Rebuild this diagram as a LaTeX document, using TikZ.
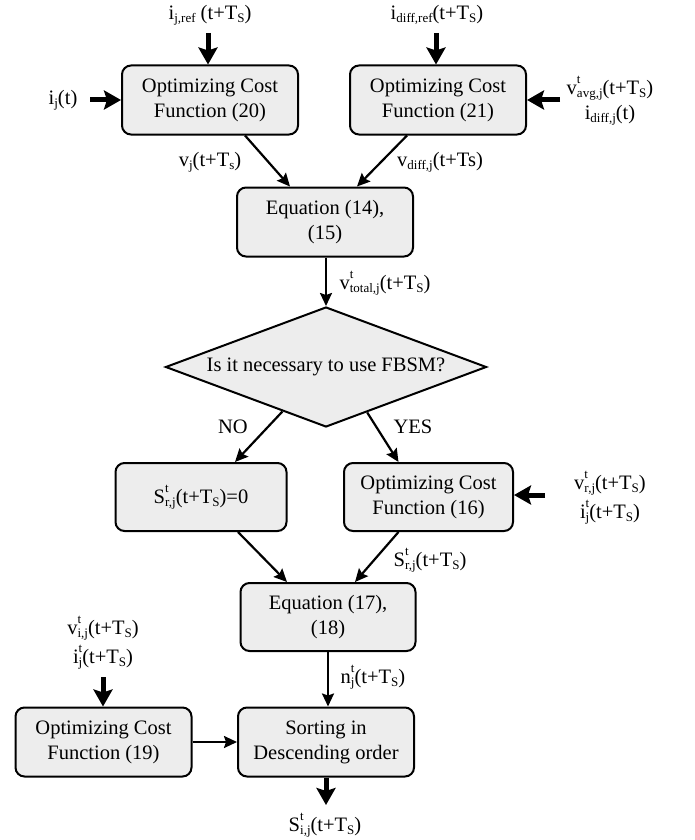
\documentclass[tikz,border=0pt]{standalone}
\usepackage{fontspec}
\setmainfont{Liberation Serif}
\usetikzlibrary{arrows.meta,shapes.geometric,calc}
\definecolor{boxgray}{HTML}{EDEDED}
\newcommand\sbs[1]{\raisebox{-0.35ex}{\fontsize{13}{13}\selectfont #1}}
\newcommand\sps[1]{\raisebox{1.15ex}{\fontsize{13}{13}\selectfont #1}}
\newcommand\supsub[2]{\rlap{\sps{#1}}\sbs{#2}}
\tikzset{
  box/.style={draw, line width=2pt, rounded corners=9pt, fill=boxgray,
    minimum width=176pt, minimum height=69pt, align=center, inner sep=2pt},
  dec/.style={draw, line width=2pt, fill=boxgray, diamond, aspect=2.675,
    minimum width=321pt, minimum height=120pt, inner sep=0pt},
  conn/.style={line width=2.2pt, -{Stealth[length=13pt,width=12pt,inset=2pt]}},
  bigin/.style={line width=5pt, -{Stealth[length=17pt,width=19pt,inset=3pt]}},
  lab/.style={align=center, inner sep=0pt}
}
\begin{document}
\begin{tikzpicture}[x=1pt,y=-1pt,font=\fontsize{20.5}{25}\selectfont]
\useasboundingbox (0,0) rectangle (695,840);
% boxes
\node[box] (b20) at (210,100) {Optimizing Cost\\Function (20)};
\node[box] (b21) at (438,100) {Optimizing Cost\\Function (21)};
\node[box] (e14) at (325,222) {Equation (14),\\(15)};
\node[dec] (dia) at (326,367) {Is it necessary to use FBSM?};
\node[box, minimum width=171pt, minimum height=68pt] (s0) at (201,497) {S\supsub{t}{r,j}(t+T\sbs{S})=0};
\node[box, minimum width=169pt, minimum height=68pt] (b16) at (428.5,497) {Optimizing Cost\\Function (16)};
\node[box, minimum width=175pt, minimum height=68pt] (e17) at (328,617) {Equation (17),\\(18)};
\node[box] (sort) at (326,742) {Sorting in\\Descending order};
\node[box] (b19) at (103.5,742) {Optimizing Cost\\Function (19)};
% input labels
\node[lab] (l20t) at (210,15) {i\sbs{j,ref} (t+T\sbs{S})};
\node[lab] (l21t) at (437,15) {i\sbs{diff,ref}(t+T\sbs{S})};
\node[lab] (l20l) at (63,100) {i\sbs{j}(t)};
\node[lab] (l21r) at (610,101) {v\supsub{t}{avg,j}(t+T\sbs{S})\\i\sbs{diff,j}(t)};
\node[lab] (l16r) at (610,498) {v\supsub{t}{r,j}(t+T\sbs{S})\\[4pt]i\supsub{t}{j}(t+T\sbs{S})};
\node[lab] (l19t) at (103,643) {v\supsub{t}{i,j}(t+T\sbs{S})\\[4pt]i\supsub{t}{j}(t+T\sbs{S})};
\node[lab] (lout) at (325,825) {S\supsub{t}{i,j}(t+T\sbs{S})};
% connector labels
\node[lab] (lvj) at (210,162) {v\sbs{j}(t+T\sbs{s})};
\node[lab] (lvd) at (440,162) {v\sbs{diff,j}(t+Ts)};
\node[lab] (lvt) at (385,283) {v\supsub{t}{total,j}(t+T\sbs{S})};
\node[lab] (lno) at (233,427) {NO};
\node[lab] (lyes) at (413,427) {YES};
\node[lab] (lsr) at (430,560) {S\supsub{t}{r,j}(t+T\sbs{S})};
\node[lab] (lnj) at (373,677) {n\supsub{t}{j}(t+T\sbs{S})};
% coordinates for free ends
\coordinate (a20t) at (208,33);
\coordinate (a21t) at (436,33);
\coordinate (a20l) at (90,100);
\coordinate (a21r) at (560,100);
\coordinate (a16r) at (545,495);
\coordinate (a19t) at (103,677);
\coordinate (aout) at (326,805);
% thick input arrows
\draw[bigin] (a20t) -- (a20t |- b20.north);
\draw[bigin] (a21t) -- (a21t |- b21.north);
\draw[bigin] (a20l) -- (b20.west);
\draw[bigin] (a21r) -- (b21.east);
\draw[bigin] (a16r) -- (a16r -| b16.east);
\draw[bigin] (a19t) -- (a19t |- b19.north);
\draw[bigin] (sort.south) -- (aout);
% connectors
\draw[conn] ($(b20.south)+(35,0)$) -- ($(e14.north)+(-35,0)$);
\draw[conn] ($(b21.south)+(-31,0)$) -- ($(e14.north)+(32,0)$);
\draw[conn] ($(e14.south)+(1,0)$) -- (dia.north);
\draw[conn] ($(dia.south)!0.27!(dia.west)$) -- ($(s0.north)+(34,0)$);
\draw[conn] ($(dia.south)!0.255!(dia.east)$) -- ($(b16.north)+(-30,0)$);
\draw[conn] ($(s0.south)+(37,0)$) -- ($(e17.north)+(-41,0)$);
\draw[conn] ($(b16.south)+(-30,0)$) -- ($(e17.north)+(27,0)$);
\draw[conn] (e17.south) -- (e17.south |- sort.north);
\draw[conn] (b19.east) -- (sort.west);
\end{tikzpicture}
\end{document}
